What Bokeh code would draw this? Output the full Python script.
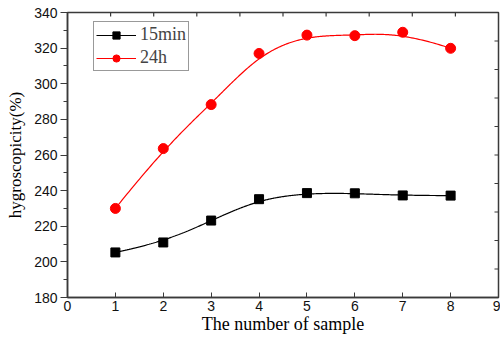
import numpy as np
from bokeh.plotting import figure
from bokeh.models import Range1d, FixedTicker, Legend, LegendItem
from bokeh.embed import file_html
from bokeh.resources import INLINE

samples = [1, 2, 3, 4, 5, 6, 7, 8]
h15min = [205.3, 210.9, 223.2, 235.2, 238.6, 238.5, 237.3, 237.2]
h24h = [230.0, 263.6, 288.3, 317.0, 327.3, 327.0, 328.9, 319.9]
x_ticks = [0, 1, 2, 3, 4, 5, 6, 7, 8, 9]
y_ticks = [180, 200, 220, 240, 260, 280, 300, 320, 340]
frame_parts = 10  # top/right frame ticks divide each side in ten


def bspline(xs, ys, n=300, k=3):
    P = np.column_stack([xs, ys]).astype(float)
    m = len(P)
    t = np.concatenate([[0] * k, np.arange(m - k + 1), [m - k] * k]).astype(float)
    u = np.linspace(0, m - k, n)
    u[-1] -= 1e-9
    N = np.zeros((n, len(t) - 1))
    for i in range(len(t) - 1):
        N[:, i] = ((u >= t[i]) & (u < t[i + 1])).astype(float)
    for d in range(1, k + 1):
        Nn = np.zeros((n, len(t) - 1 - d))
        for i in range(len(t) - 1 - d):
            a = np.zeros(n)
            b = np.zeros(n)
            if t[i + d] != t[i]:
                a = (u - t[i]) / (t[i + d] - t[i]) * N[:, i]
            if t[i + d + 1] != t[i + 1]:
                b = (t[i + d + 1] - u) / (t[i + d + 1] - t[i + 1]) * N[:, i + 1]
            Nn[:, i] = a + b
        N = Nn
    C = N @ P
    return C[:, 0], C[:, 1]


p = figure(width=500, height=343, output_backend="svg", toolbar_location=None,
           x_range=Range1d(0, 9), y_range=Range1d(180, 340),
           min_border_left=67, min_border_right=2, min_border_top=12, min_border_bottom=46)
p.background_fill_color = "white"
p.border_fill_color = "white"
p.outline_line_color = "#3a3a3a"
p.outline_line_width = 1.5
p.grid.visible = False

ax_color = "#3a3a3a"
xa = p.xaxis[0]
xa.ticker = FixedTicker(ticks=x_ticks)
xa.axis_label = "The number of sample"
xa.axis_label_text_font = "Liberation Serif"
xa.axis_label_text_font_size = "18px"
xa.axis_label_text_font_style = "normal"
xa.axis_label_text_color = "black"
xa.axis_label_standoff = 0
xa.major_label_text_font = "Liberation Sans"
xa.major_label_text_font_size = "14px"
xa.major_label_text_color = "#111111"
xa.major_label_standoff = 3
xa.major_tick_in = 5
xa.major_tick_out = 0
xa.minor_tick_line_color = None
xa.axis_line_color = ax_color
xa.axis_line_width = 1.5
xa.major_tick_line_color = ax_color

ya = p.yaxis[0]
ya.ticker = FixedTicker(ticks=y_ticks, minor_ticks=list(range(180, 341, 10)))
ya.axis_label = "hygroscopicity(%)"
ya.axis_label_text_font = "Liberation Serif"
ya.axis_label_text_font_size = "17px"
ya.axis_label_text_font_style = "normal"
ya.axis_label_text_color = "black"
ya.axis_label_standoff = 6
ya.major_label_text_font = "Liberation Sans"
ya.major_label_text_font_size = "14px"
ya.major_label_text_color = "#111111"
ya.major_label_standoff = 3
ya.major_tick_in = 0
ya.major_tick_out = 7
ya.minor_tick_in = 0
ya.minor_tick_out = 4
ya.axis_line_color = ax_color
ya.axis_line_width = 1.5
ya.major_tick_line_color = ax_color
ya.minor_tick_line_color = ax_color

# Inner tick marks on the top and right frame edges
p.extra_x_ranges = {"top": Range1d(0, frame_parts)}
p.extra_y_ranges = {"right": Range1d(0, frame_parts)}
fr = np.arange(1, frame_parts)
tick_dy = 4 * (340 - 180) / 285.0
tick_dx = 4 * frame_parts / 430.0
p.segment(x0=fr, y0=[340] * len(fr), x1=fr, y1=[340 - tick_dy] * len(fr),
          x_range_name="top", line_color=ax_color, line_width=1.2)
p.segment(x0=[frame_parts] * len(fr), y0=fr, x1=[frame_parts - tick_dx] * len(fr), y1=fr,
          x_range_name="top", y_range_name="right", line_color=ax_color, line_width=1.2)

bx1, by1 = bspline(samples, h15min)
bx2, by2 = bspline(samples, h24h)
l1 = p.line(bx1, by1, line_color="black", line_width=1.2)
m1 = p.scatter(samples, h15min, marker="square", size=9, fill_color="black", line_color="black")
l2 = p.line(bx2, by2, line_color="red", line_width=1.2)
m2 = p.scatter(samples, h24h, marker="circle", size=10, fill_color="red", line_color="red")

legend = Legend(items=[LegendItem(label="15min", renderers=[l1, m1]),
                       LegendItem(label="24h", renderers=[l2, m2])],
                location=(26, 226))
legend.label_text_font = "Liberation Serif"
legend.label_text_font_size = "18px"
legend.glyph_width = 40
legend.glyph_height = 18
legend.label_height = 18
legend.label_standoff = 4
legend.spacing = 2
legend.padding = 2
legend.margin = 0
legend.border_line_color = "#333333"
legend.border_line_width = 1.2
legend.background_fill_alpha = 1
p.add_layout(legend, "center")

open("out.html", "w").write(file_html(p, INLINE))
